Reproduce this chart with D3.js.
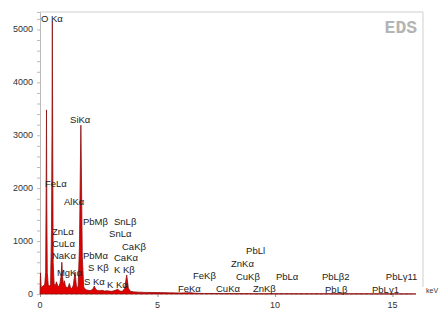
<!DOCTYPE html>
<html>
<head>
<meta charset="utf-8">
<script src="https://cdn.jsdelivr.net/npm/d3@7"></script>
<style>
  body { margin: 0; background: #fff; }
  text { font-family: "Liberation Sans", Arial, sans-serif; }
</style>
</head>
<body>
<svg width="440" height="310"></svg>
<script>
// spectrum (keV, counts)
let energy = [0.00, 0.02, 0.05, 0.10, 0.15, 0.20, 0.24, 0.26, 0.277, 0.29, 0.31, 0.35, 0.40, 0.45, 0.49, 0.51, 0.525, 0.54, 0.56,
    0.60, 0.65, 0.70, 0.75, 0.80, 0.85, 0.90, 0.93, 0.96, 1.00, 1.04, 1.08, 1.15, 1.20, 1.25, 1.30, 1.36, 1.42, 1.49, 1.55,
    1.62, 1.68, 1.72, 1.74, 1.76, 1.80, 1.86, 1.95, 2.05, 2.15, 2.25, 2.31, 2.37, 2.45, 2.55, 2.65, 2.75, 2.85, 2.95, 3.05,
    3.15, 3.31, 3.40, 3.50, 3.60, 3.69, 3.76, 3.85, 4.00, 4.20, 4.50, 5.00, 5.50, 6.00, 6.40, 6.60, 7.00, 8.00, 9.00, 10.0,
    12.0, 14.0, 16.0];
let counts = [0, 400, 120, 140, 160, 170, 400, 1800, 3480, 1600, 400, 170, 150, 180, 1200, 3000, 5150, 3000, 600,
    200, 150, 230, 160, 140, 200, 350, 600, 330, 170, 250, 150, 120, 130, 200, 120, 100, 170, 415, 150,
    120, 900, 2500, 3190, 2400, 700, 130, 80, 70, 65, 90, 150, 90, 65, 60, 70, 55, 60, 55, 50,
    60, 90, 55, 50, 100, 360, 110, 50, 40, 35, 30, 28, 22, 18, 25, 14, 10, 8, 6, 5,
    4, 3, 2];

// peak labels: text, keV of left edge, counts at baseline
let labelText = ["O K\u03b1", "SiK\u03b1", "FeL\u03b1", "AlK\u03b1", "PbM\u03b2", "SnL\u03b2", "ZnL\u03b1", "SnL\u03b1",
    "CuL\u03b1", "CaK\u03b2", "NaK\u03b1", "PbM\u03b1", "CaK\u03b1", "MgK\u03b1", "S K\u03b2", "K K\u03b2", "S K\u03b1",
    "K K\u03b1", "PbLl", "ZnK\u03b1", "FeK\u03b2", "CuK\u03b2", "PbL\u03b1", "FeK\u03b1", "CuK\u03b1", "ZnK\u03b2",
    "PbL\u03b22", "PbL\u03b311", "PbL\u03b2", "PbL\u03b31"];
let labelKeV = [0.04, 1.28, 0.21, 1.02, 1.83, 3.15, 0.51, 2.94, 0.51, 3.49, 0.51, 1.83, 3.15, 0.72, 2.04, 3.15, 1.87,
    2.85, 8.77, 8.13, 6.51, 8.34, 10.04, 5.87, 7.49, 9.06, 12.0, 14.72, 12.13, 14.13];
let labelCount = [5140, 3230, 2020, 1680, 1300, 1300, 1115, 1080, 890, 830, 660, 660, 620, 340, 435, 400, 170,
    115, 756, 510, 285, 265, 265, 38, 38, 38, 265, 265, 20, 20];

let xTicks = [0, 5, 10, 15];
let yTicks = [0, 1000, 2000, 3000, 4000, 5000];

let svg = d3.select("svg"),
    margin = { left: 40, right: 423, top: 12, bottom: 294 };

let x = d3.scaleLinear().domain([0, 16.3]).range([margin.left, margin.right]);
let y = d3.scaleLinear().domain([0, 5330]).range([margin.bottom, margin.top]);

// frame (top and right only)
svg.append("path")
    .attr("d", "M" + margin.left + "," + margin.top + "H" + margin.right + "V287")
    .attr("fill", "none")
    .attr("stroke", "#cfcfcf");

// baseline
svg.append("line")
    .attr("x1", margin.left).attr("x2", x(15.8))
    .attr("y1", margin.bottom).attr("y2", margin.bottom)
    .attr("stroke", "#aaa")
    .attr("stroke-dasharray", "3,2");

// y axis
let yAxis = svg.append("g")
    .attr("transform", "translate(" + margin.left + ",0)")
    .call(d3.axisLeft(y).tickValues(d3.range(0, 5201, 200)).tickSize(3).tickFormat(""));
yAxis.select(".domain").attr("stroke", "#bbb");
yAxis.selectAll(".tick line").attr("stroke", "#bbb");
svg.append("g").selectAll("text")
    .data(yTicks)
    .enter().append("text")
    .attr("x", 33)
    .attr("y", d => y(d) + 3)
    .attr("text-anchor", "end")
    .attr("font-size", 9)
    .attr("fill", "#333")
    .text(d => d);

// x axis ticks and labels
let xAxis = svg.append("g")
    .attr("transform", "translate(0," + margin.bottom + ")")
    .call(d3.axisBottom(x).tickValues(xTicks).tickSize(3).tickFormat(""));
xAxis.select(".domain").remove();
xAxis.selectAll(".tick line").attr("stroke", "#999");
svg.append("g").selectAll("text")
    .data(xTicks)
    .enter().append("text")
    .attr("x", d => x(d))
    .attr("y", 308)
    .attr("text-anchor", "middle")
    .attr("font-size", 9)
    .attr("fill", "#333")
    .text(d => d);

svg.append("text")
    .attr("x", 426).attr("y", 293)
    .attr("font-size", 7)
    .attr("fill", "#333")
    .text("keV");

// spectrum
let pts = energy.map((e, i) => [e, counts[i]]);
let area = d3.area()
    .x(d => x(d[0]))
    .y0(y(0))
    .y1(d => y(d[1]));
svg.append("path")
    .datum(pts)
    .attr("d", area)
    .attr("fill", "#e00000")
    .attr("stroke", "#8a1010")
    .attr("stroke-width", 0.8);

// labels
svg.append("g").selectAll("text")
    .data(labelText)
    .enter().append("text")
    .attr("x", (d, i) => x(labelKeV[i]))
    .attr("y", (d, i) => y(labelCount[i]))
    .attr("font-size", 9.5)
    .attr("fill", "#222")
    .text(d => d);

// watermark
svg.append("text")
    .attr("x", 417).attr("y", 33)
    .attr("text-anchor", "end")
    .style("font-family", "'Liberation Mono', 'DejaVu Sans Mono', monospace")
    .attr("font-size", 18)
    .attr("font-weight", "bold")
    .attr("fill", "#b4b4b4")
    .text("EDS");
</script>
</body>
</html>
